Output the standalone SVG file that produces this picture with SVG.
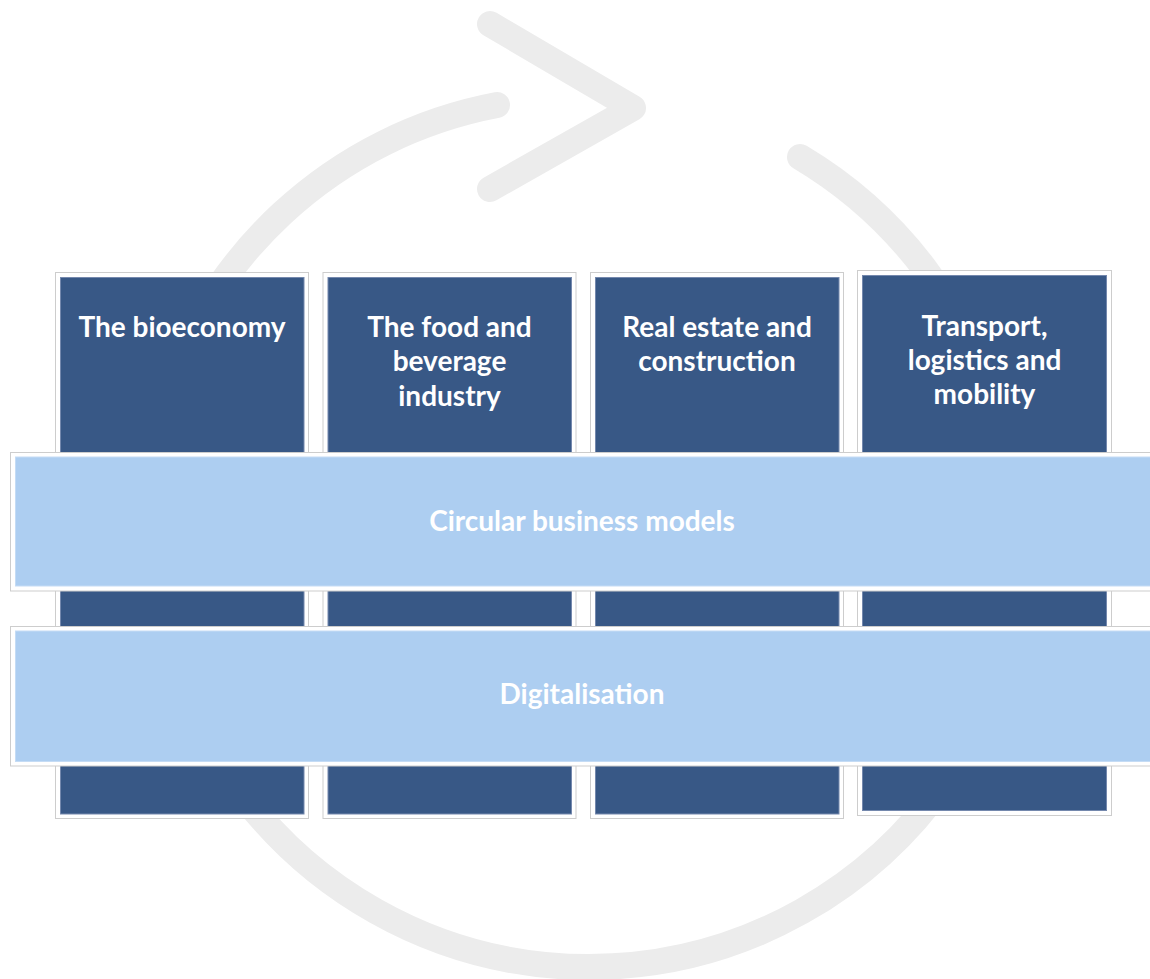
<svg xmlns="http://www.w3.org/2000/svg" width="1150" height="979" viewBox="0 0 1150 979">
  <style>
    .ring { fill: none; stroke: #ececec; stroke-width: 26; }
    .frame { fill: #ffffff; stroke: #cdcdcd; stroke-width: 1; }
    .sector { fill: #385886; stroke: #7488ad; stroke-width: 1; }
    .band { fill: #adcef1; stroke: #c5dcf5; stroke-width: 1; }
    .label { font-family: "Lato", "Liberation Sans", sans-serif; font-weight: 700; font-size: 28px; fill: #ffffff; text-anchor: middle; }
  </style>

  <!-- circular arrow behind the matrix -->
  <g id="cycle-arrow">
    <path class="ring" stroke-linecap="round" d="M 497 105 A 435 435 0 0 0 157.7 420"/>
    <path class="ring" stroke-linecap="round" d="M 800 157 A 435 435 0 0 1 998.3 420"/>
    <path class="ring" d="M 231.6 780 A 435 435 0 0 0 946.4 780"/>
    <polyline class="ring" stroke-linecap="round" stroke-linejoin="round" points="490,24 633,108 490,189"/>
  </g>

  <!-- sector columns -->
  <g id="sector-bioeconomy">
    <rect class="frame" x="55.5" y="272.5" width="253" height="546"/>
    <rect class="sector" x="60.5" y="277.5" width="243.5" height="536.5"/>
    <text class="label" x="182" y="337">The bioeconomy</text>
  </g>
  <g id="sector-food">
    <rect class="frame" x="323" y="272.5" width="253" height="546"/>
    <rect class="sector" x="328" y="277.5" width="243.5" height="536.5"/>
    <text class="label" x="449.5" y="337">The food and</text>
    <text class="label" x="449.5" y="371">beverage</text>
    <text class="label" x="449.5" y="405.5">industry</text>
  </g>
  <g id="sector-construction">
    <rect class="frame" x="590.5" y="272.5" width="253" height="546"/>
    <rect class="sector" x="595.5" y="277.5" width="243.5" height="536.5"/>
    <text class="label" x="717" y="337">Real estate and</text>
    <text class="label" x="717" y="371">construction</text>
  </g>
  <g id="sector-transport">
    <rect class="frame" x="857.5" y="270.5" width="254" height="545"/>
    <rect class="sector" x="862.5" y="275.5" width="244" height="535"/>
    <text class="label" x="984.5" y="336">Transport,</text>
    <text class="label" x="984.5" y="370">logistics and</text>
    <text class="label" x="984.5" y="404">mobility</text>
  </g>

  <!-- cross-cutting bands -->
  <g id="band-circular">
    <rect class="frame" x="10.5" y="452.5" width="1150" height="138.5"/>
    <rect class="band" x="15.5" y="457" width="1150" height="129"/>
    <text class="label" x="582" y="530.5">Circular business models</text>
  </g>
  <g id="band-digital">
    <rect class="frame" x="10.5" y="626.5" width="1150" height="139.5"/>
    <rect class="band" x="15.5" y="631" width="1150" height="130.5"/>
    <text class="label" x="582" y="703.5">Digitalisation</text>
  </g>
</svg>
